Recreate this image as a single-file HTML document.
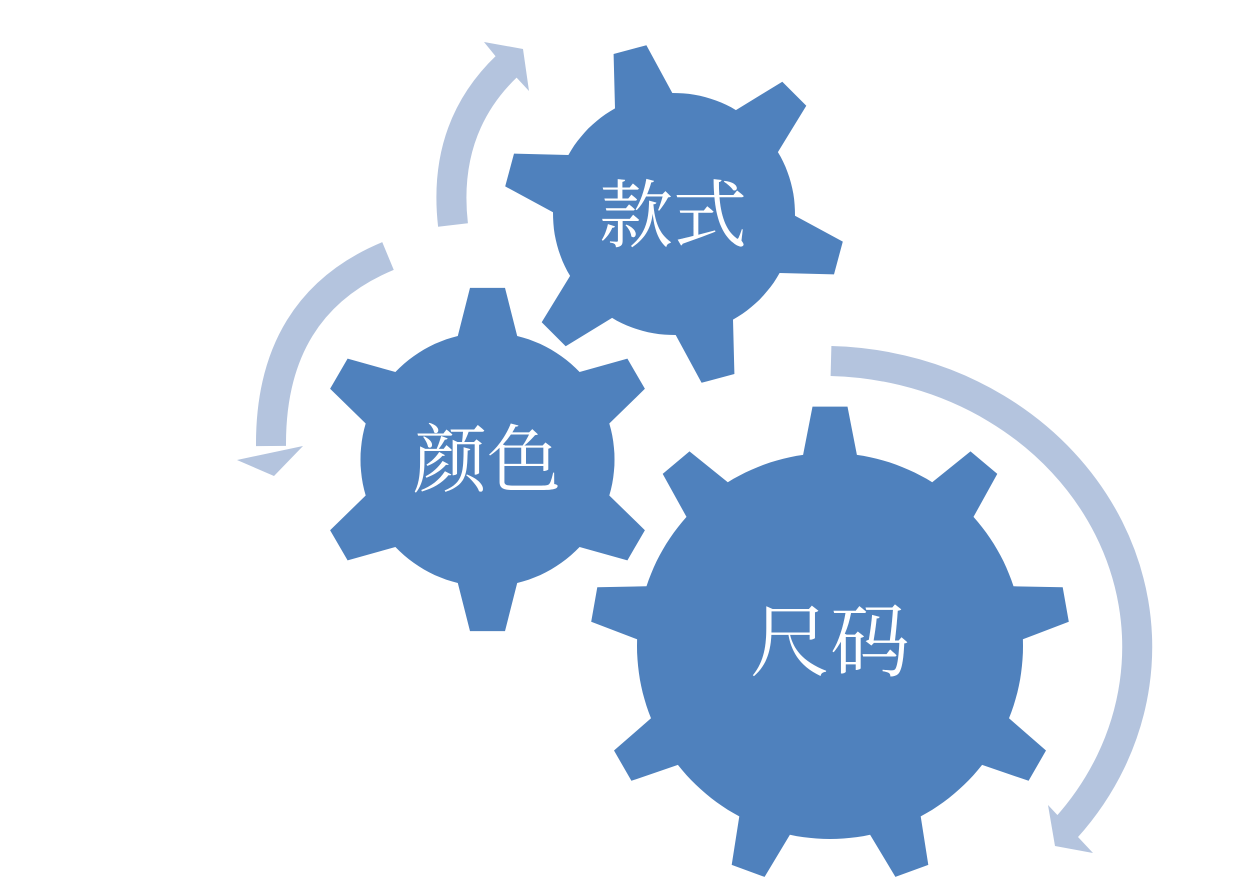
<!DOCTYPE html>
<html><head><meta charset="utf-8">
<style>
html,body{margin:0;padding:0;background:#fff;width:1258px;height:893px;overflow:hidden}
text{font-family:"Liberation Serif","Noto Serif CJK SC",serif;fill:#fff}
</style></head>
<body>
<svg id="s" width="1258" height="893" viewBox="0 0 1258 893" xmlns="http://www.w3.org/2000/svg">
<g fill="none" stroke="#B4C4DE" stroke-width="30">
<path d="M453,225 Q442,128 507,66"/>
<path d="M388,256 Q270,305 271,446"/>
<path d="M831,361 A315 286 0 0 1 1066,828"/>
</g>
<g fill="#B4C4DE">
<polygon points="484,42 523,49 529,91 516,77 497,58"/>
<polygon points="237,460 303,446 274,476"/>
<polygon points="1048,805 1093,853 1055,846"/>
</g>
<g id="gears" fill="#4F81BD"></g>
<text x="673" y="241" font-size="74" text-anchor="middle">款式</text>
<text x="487" y="486" font-size="74" text-anchor="middle">颜色</text>
<text x="830" y="670" font-size="80" text-anchor="middle">尺码</text>
</svg>
<script>
function gear(cx,cy,ro,ri,n,a0,tipHalf,baseHalf){
  var pts=[];var step=360/n;
  for(var i=0;i<n;i++){
    var a=(a0+i*step)*Math.PI/180;
    var bh=baseHalf/ri, th=tipHalf/ro;
    var P=function(r,ang){return (cx+r*Math.cos(ang)).toFixed(1)+","+(cy+r*Math.sin(ang)).toFixed(1);};
    var prevEnd=a-step*Math.PI/180+bh, start=a-bh;
    for(var k=1;k<=12;k++){var t=prevEnd+(start-prevEnd)*k/12;pts.push(P(ri,t));}
    pts.push(P(ro,a-th));pts.push(P(ro,a+th));pts.push(P(ri,a+bh));
  }
  return "M"+pts.join(" L")+"Z";
}
var g=document.getElementById("gears");
function add(d){var p=document.createElementNS("http://www.w3.org/2000/svg","path");p.setAttribute("d",d);g.appendChild(p);}
add(gear(674,214,171,121,6,-105,17,30));
add(gear(487.5,459.5,172.5,127,6,-90,17.5,30));
add(gear(830,646,240,193,9,-90,17.5,27));
</script>
</body></html>
